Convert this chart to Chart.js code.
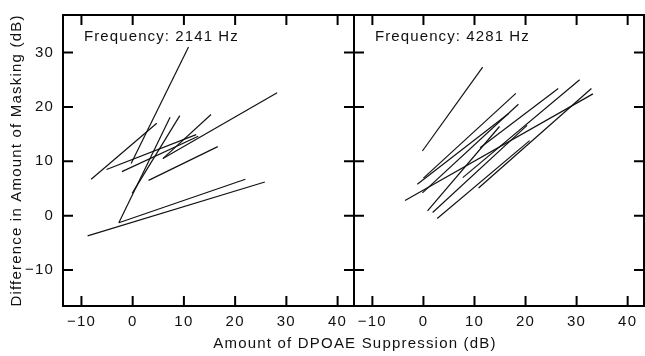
<!DOCTYPE html>
<html>
<head>
<meta charset="utf-8">
<script src="https://cdn.jsdelivr.net/npm/chart.js@4"></script>
<style>
  html, body { margin: 0; padding: 0; background: #fff; }
  #wrap { position: relative; width: 645px; height: 356px; overflow: hidden; }
  #leftChart { position: absolute; left: 0; top: 0; }
  #rightChart { position: absolute; left: 340px; top: 0; }
  #xTitle {
    position: absolute; left: 0; width: 710px; top: 334px;
    text-align: center; font: 15px "Liberation Sans", Arial, sans-serif;
    letter-spacing: 1.2px; color: #111;
  }
</style>
</head>
<body>
<div id="wrap">
  <canvas id="leftChart" width="356" height="356"></canvas>
  <canvas id="rightChart" width="305" height="356"></canvas>
  <div id="xTitle">Amount of DPOAE Suppression (dB)</div>
</div>
<script>
// panel labels and axis ticks
const leftLabel = 'Frequency: 2141 Hz';
const rightLabel = 'Frequency: 4281 Hz';
const yTitle = 'Difference in Amount of Masking (dB)';
const xTicks = [-10, 0, 10, 20, 30, 40];
const yTicks = [-10, 0, 10, 20, 30];

// 2141 Hz: each line runs from (startX, startY) to (endX, endY)
const leftStartX = [-0.3, -8.1, -8.8, -2.7, -2.7, -0.1, -5.1, -2.1, 5.9, 3.1, 5.9];
const leftStartY = [9.6, 6.7, -3.7, -1.3, -1.3, 4.1, 8.5, 8.1, 10.5, 6.5, 10.5];
const leftEndX = [10.9, 4.7, 25.8, 22.0, 7.3, 9.2, 12.4, 12.8, 28.2, 16.6, 15.3];
const leftEndY = [31.0, 17.0, 6.2, 6.7, 18.1, 18.4, 14.9, 14.6, 22.6, 12.7, 18.6];

// 4281 Hz
const rightStartX = [-0.2, -1.2, 0.0, -0.2, -3.6, 0.8, 1.8, 2.7, 10.8, 7.7, 11.1];
const rightStartY = [11.9, 5.8, 6.9, 4.2, 2.8, 0.9, 0.6, -0.5, 5.1, 7.0, 12.5];
const rightEndX = [11.6, 16.7, 18.1, 18.6, 33.2, 14.9, 20.3, 20.8, 32.9, 30.6, 26.4];
const rightEndY = [27.3, 18.8, 22.5, 20.5, 22.4, 16.4, 16.6, 13.8, 23.4, 25.0, 23.4];

const fontFamily = '"Liberation Sans", Arial, sans-serif';

function segments(x0, y0, x1, y1) {
    return x0.map((_, i) => ({
        data: [{ x: x0[i], y: y0[i] }, { x: x1[i], y: y1[i] }],
        borderColor: '#111',
        borderWidth: 1.2,
        pointRadius: 0,
        showLine: true
    }));
}

function tickText(v) {
    return v < 0 ? '\u2212' + Math.abs(v) : String(v);
}

// frame with inward tick marks on all four sides + panel label
const framePlugin = {
    id: 'frame',
    beforeDraw(chart) {
        chart.ctx.letterSpacing = '1.2px';
    },
    afterDraw(chart, args, opts) {
        const { ctx, chartArea: a, scales } = chart;
        const len = 10;
        ctx.save();
        ctx.strokeStyle = '#000';
        ctx.lineWidth = 2;
        ctx.strokeRect(a.left, a.top, a.right - a.left, a.bottom - a.top);
        ctx.beginPath();
        xTicks.forEach(v => {
            const px = scales.x.getPixelForValue(v);
            ctx.moveTo(px, a.bottom); ctx.lineTo(px, a.bottom - len);
            ctx.moveTo(px, a.top); ctx.lineTo(px, a.top + len);
        });
        yTicks.forEach(v => {
            const py = scales.y.getPixelForValue(v);
            ctx.moveTo(a.left, py); ctx.lineTo(a.left + len, py);
            ctx.moveTo(a.right, py); ctx.lineTo(a.right - len, py);
        });
        ctx.stroke();
        ctx.fillStyle = '#111';
        ctx.font = '15px ' + fontFamily;
        ctx.letterSpacing = '1.1px';
        ctx.textAlign = 'left';
        ctx.textBaseline = 'alphabetic';
        ctx.fillText(opts.label, a.left + 21, a.top + 26);
        ctx.restore();
    }
};

function xScale() {
    return {
        type: 'linear',
        min: -13.6,
        max: 43.2,
        afterBuildTicks: s => { s.ticks = xTicks.map(v => ({ value: v })); },
        afterFit: s => { s.height = 50; s.paddingLeft = 0; s.paddingRight = 0; },
        grid: { display: false, drawTicks: false },
        border: { display: false },
        ticks: {
            padding: 7,
            color: '#111',
            font: { family: fontFamily, size: 15 },
            maxRotation: 0,
            callback: tickText
        }
    };
}

const leftConfig = {
    type: 'scatter',
    data: { datasets: segments(leftStartX, leftStartY, leftEndX, leftEndY) },
    options: {
        responsive: false,
        animation: false,
        layout: { padding: { top: 15, right: 2, bottom: 0, left: 0 } },
        plugins: {
            legend: { display: false },
            tooltip: { enabled: false },
            frame: { label: leftLabel }
        },
        scales: {
            x: xScale(),
            y: {
                type: 'linear',
                min: -16.6,
                max: 36.9,
                afterBuildTicks: s => { s.ticks = yTicks.map(v => ({ value: v })); },
                afterFit: s => { s.width = 63; s.paddingTop = 0; s.paddingBottom = 0; },
                grid: { display: false, drawTicks: false },
                border: { display: false },
                title: {
                    display: true,
                    text: yTitle,
                    color: '#111',
                    font: { family: fontFamily, size: 15 },
                    padding: { top: 8, bottom: 0 }
                },
                ticks: {
                    padding: 9,
                    color: '#111',
                    font: { family: fontFamily, size: 15 },
                    callback: tickText
                }
            }
        }
    },
    plugins: [framePlugin]
};

const rightConfig = {
    type: 'scatter',
    data: { datasets: segments(rightStartX, rightStartY, rightEndX, rightEndY) },
    options: {
        responsive: false,
        animation: false,
        layout: { padding: { top: 15, right: 1, bottom: 0, left: 14 } },
        plugins: {
            legend: { display: false },
            tooltip: { enabled: false },
            frame: { label: rightLabel }
        },
        scales: {
            x: xScale(),
            y: { type: 'linear', min: -16.6, max: 36.9, display: false }
        }
    },
    plugins: [framePlugin]
};

new Chart(document.getElementById('leftChart'), leftConfig);
new Chart(document.getElementById('rightChart'), rightConfig);
</script>
</body>
</html>
